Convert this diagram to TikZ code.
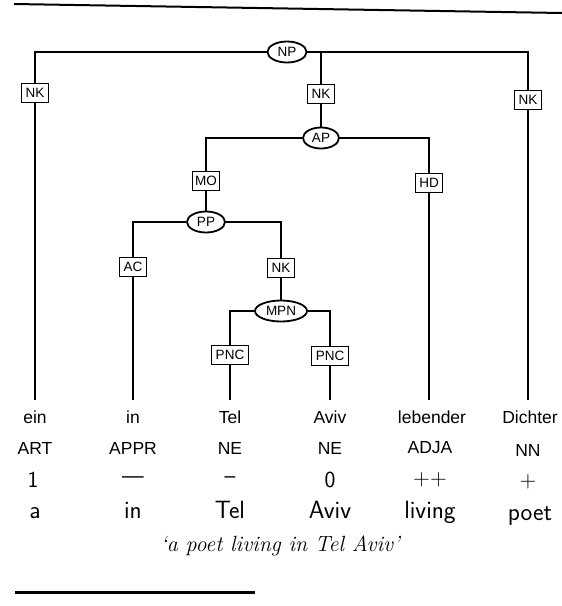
\documentclass[tikz,border=0pt]{standalone}
\usepackage{fontspec}
\newfontfamily\helv{Liberation Sans}
\usetikzlibrary{shapes.geometric}
\tikzset{
  edge/.style={line width=1.8pt},
  cat/.style={ellipse, draw, line width=1.8pt, inner sep=0pt, minimum height=21pt, font=\helv\fontsize{13.5}{13.5}\selectfont},
  fn/.style={rectangle, draw, line width=1.8pt, inner sep=1.5pt, minimum height=19pt, font=\helv\fontsize{13.5}{13.5}\selectfont},
  wordA/.style={font=\helv\fontsize{17.5}{17.5}\selectfont, inner sep=0pt},
  wordC/.style={font=\sffamily\fontsize{23}{23}\selectfont, inner sep=0pt},
  wordB/.style={font=\sffamily\fontsize{25}{25}\selectfont, inner sep=0pt},
  gloss/.style={font=\itshape\fontsize{22}{22}\selectfont, inner sep=0pt},
}
\begin{document}
\begin{tikzpicture}[x=1pt,y=-1pt]
\useasboundingbox (0,0) rectangle (562,606);
% rules
\coordinate (r1a) at (14,4); \coordinate (r1b) at (562,13);
\draw[line width=2pt] (r1a) -- (r1b);
\coordinate (r2a) at (15,592); \coordinate (r2b) at (255,592);
\draw[line width=3pt] (r2a) -- (r2b);

% phrase nodes
\node[cat, minimum width=39pt] (NP) at (287,52) {NP};
\node[cat, minimum width=36pt] (AP) at (321,138) {AP};
\node[cat, minimum width=38pt] (PP) at (206,222) {PP};
\node[cat, minimum width=52pt] (MPN) at (281,311) {MPN};

% function boxes
\node[fn, minimum width=27pt] (nk1) at (35,93) {NK};
\node[fn, minimum width=27pt] (nk2) at (321,94) {NK};
\node[fn, minimum width=27pt] (nk3) at (528,100) {NK};
\node[fn, minimum width=27pt] (mo) at (206,181) {MO};
\node[fn, minimum width=27pt] (hd) at (429,183) {HD};
\node[fn, minimum width=27pt] (ac) at (133,267) {AC};
\node[fn, minimum width=27pt] (nk4) at (281,268) {NK};
\node[fn, minimum width=37pt] (pnc1) at (230,355) {PNC};
\node[fn, minimum width=37pt] (pnc2) at (330,356) {PNC};

% leaf ends
\coordinate (l1) at (35,400);
\coordinate (l2) at (133,400);
\coordinate (l3) at (230,400);
\coordinate (l4) at (330,400);
\coordinate (l5) at (429,400);
\coordinate (l6) at (528,400);

% edges
\draw[edge] (NP.west) -| (nk1.north);
\draw[edge] (NP.east) -| (nk3.north);
\draw[edge] (NP.east -| nk2.north) -- (nk2.north);
\draw[edge] (nk1.south) -- (l1);
\draw[edge] (nk3.south) -- (l6);
\draw[edge] (nk2.south) -- (AP.north);
\draw[edge] (AP.west) -| (mo.north);
\draw[edge] (AP.east) -| (hd.north);
\draw[edge] (hd.south) -- (l5);
\draw[edge] (mo.south) -- (PP.north);
\draw[edge] (PP.west) -| (ac.north);
\draw[edge] (PP.east) -| (nk4.north);
\draw[edge] (ac.south) -- (l2);
\draw[edge] (nk4.south) -- (MPN.north);
\draw[edge] (MPN.west) -| (pnc1.north);
\draw[edge] (MPN.east) -| (pnc2.north);
\draw[edge] (pnc1.south) -- (l3);
\draw[edge] (pnc2.south) -- (l4);

% words
\node[wordA] (w1) at (35,417) {ein};
\node[wordA] (w2) at (133,417) {in};
\node[wordA] (w3) at (230,417) {Tel};
\node[wordA] (w4) at (330,417) {Aviv};
\node[wordA] (w5) at (432,417) {lebender};
\node[wordA] (w6) at (530,417) {Dichter};
% tags
\node[wordA] (t1) at (35,448) {ART};
\node[wordA] (t2) at (133,448) {APPR};
\node[wordA] (t3) at (230,448) {NE};
\node[wordA] (t4) at (330,448) {NE};
\node[wordA] (t5) at (430,448) {ADJA};
\node[wordA] (t6) at (528,450) {NN};
% morphology
\node[wordC] (m1) at (33,480) {1};
\node[wordC] (m2) at (133,480) {---};
\node[wordC] (m3) at (230,480) {--};
\node[wordC] (m4) at (330,480) {0};
\node[wordC] (m5) at (430,480) {++};
\node[wordC] (m6) at (528,482) {+};
% gloss
\node[wordB, anchor=base] (g1) at (35,518) {a};
\node[wordB, anchor=base] (g2) at (133,518) {in};
\node[wordB, anchor=base] (g3) at (230,518) {Tel};
\node[wordB, anchor=base] (g4) at (330,518) {Aviv};
\node[wordB, anchor=base] (g5) at (430,518) {living};
\node[wordB, anchor=base] (g6) at (530,520) {poet};
% translation
\node[gloss] (tr) at (280,546) {`a poet living in Tel Aviv'};
\end{tikzpicture}
\end{document}
